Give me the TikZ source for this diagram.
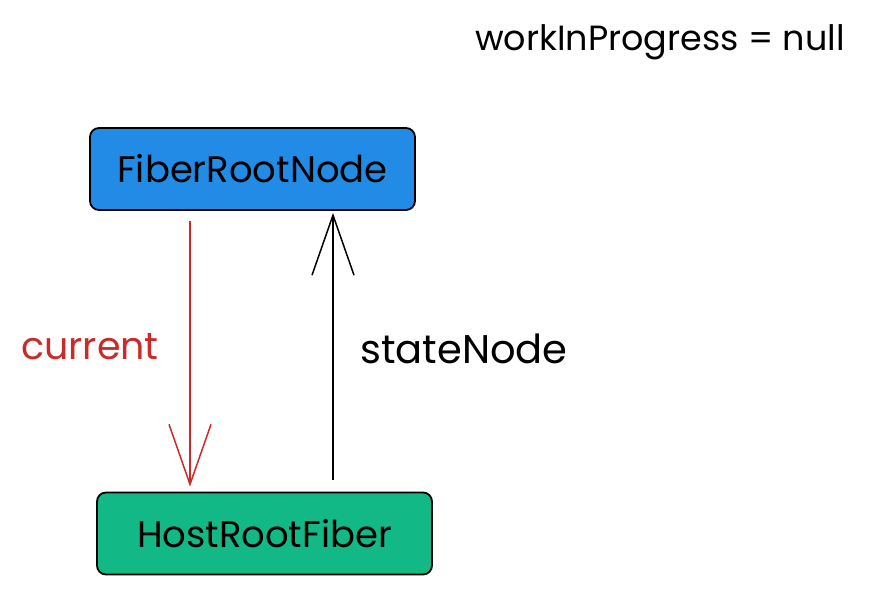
\documentclass[tikz,border=0pt]{standalone}
\usepackage{fontspec}
\setmainfont{Poppins}
\usetikzlibrary{arrows.meta}
\definecolor{rootblue}{HTML}{228BE6}
\definecolor{fibergreen}{HTML}{12B886}
\definecolor{curred}{HTML}{C92A2A}
\begin{document}
\begin{tikzpicture}[x=1pt, y=-1pt]
\tikzstyle{box}=[draw, line width=1.8pt, rounded corners=9pt, minimum height=82pt, font=\fontsize{37}{40}\selectfont, text=black]
\tikzstyle{lbl}=[font=\fontsize{38}{40}\selectfont]
\tikzstyle{link}=[line width=1.5pt, -{Straight Barb[length=60pt, width=42pt, line width=1.5pt]}]
\useasboundingbox (0,0) rectangle (869,594);
\node[box, fill=rootblue, minimum width=325pt] (froot) at (252.5,169) {FiberRootNode};
\node[box, fill=fibergreen, minimum width=335pt] (hroot) at (264.5,533.5) {HostRootFiber};
\node[lbl, text=curred] (cur) at (90,347) {current};
\node[lbl, font=\fontsize{40}{42}\selectfont] (sn) at (464,349) {stateNode};
\node[lbl, font=\fontsize{35}{38}\selectfont] (wip) at (660,42) {workInProgress = null};
\draw[link, curred, shorten <=10pt, shorten >=5pt] ([xshift=-62.5pt]froot.south) -- ([xshift=-62.5pt]froot.south |- hroot.north);
\draw[link, shorten <=12pt, shorten >=2pt] ([xshift=80.5pt]froot.south |- hroot.north) -- ([xshift=80.5pt]froot.south);
\end{tikzpicture}
\end{document}
